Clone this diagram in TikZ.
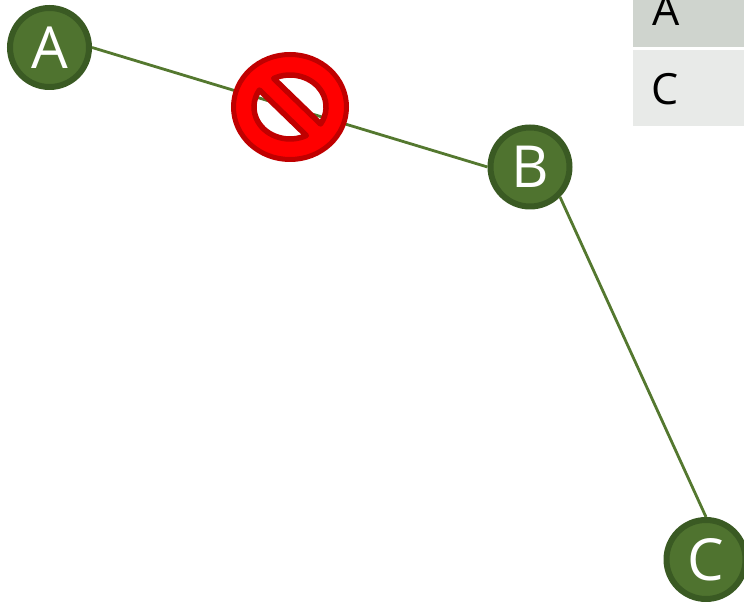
\documentclass[tikz,border=0pt]{standalone}
\usepackage{fontspec}
\setmainfont{Open Sans}
\definecolor{nodefill}{HTML}{4F732F}
\definecolor{nodeline}{HTML}{3A5A23}
\definecolor{edgecol}{HTML}{54782F}
\definecolor{rowa}{HTML}{CFD4CE}
\definecolor{rowc}{HTML}{E8EAE8}
\definecolor{signdark}{HTML}{C00000}
\tikzset{
  vertex/.style={circle,draw=nodeline,fill=nodefill,line width=6pt,minimum size=79pt,inner sep=0pt,text=white,font=\fontsize{58}{58}\selectfont},
  edge/.style={draw=edgecol,line width=2.8pt},
  rowlabel/.style={anchor=base west,inner sep=0pt,text=black,font=\fontsize{43}{43}\selectfont},
  signline/.style={draw=signdark,line width=5.5pt,line join=round}
}
\begin{document}
\begin{tikzpicture}[x=1pt,y=1pt]
\useasboundingbox (0,0) rectangle (744,602);
\clip (0,0) rectangle (744,602);
\fill[rowa] (633,554.5) rectangle (744,602);
\fill[rowc] (633,476) rectangle (744,551.5);
\node[rowlabel] (la) at (652,576) {A};
\node[rowlabel] (lc) at (651,497) {C};
\node[vertex] (a) at (49.5,554.5) {A};
\node[vertex] (b) at (530,435) {B};
\node[vertex] (c) at (706,42.5) {C};
\path[edge] (a.east) -- (b.west);
\path[edge] (b.south east) -- (c.north);
% prohibition sign
\fill[red,even odd rule] (290,495) ellipse [x radius=57,y radius=53]
  (273.7,523.5) arc[start angle=117,end angle=-32,x radius=36,y radius=32] -- cycle
  (306.3,466.5) arc[start angle=297,end angle=148,x radius=36,y radius=32] -- cycle;
\draw[signdark,line width=5pt] (290,495) ellipse [x radius=56.5,y radius=52.5];
\draw[signline] (273.7,523.5) arc[start angle=117,end angle=-32,x radius=36,y radius=32] -- cycle;
\draw[signline] (306.3,466.5) arc[start angle=297,end angle=148,x radius=36,y radius=32] -- cycle;
\end{tikzpicture}
\end{document}
